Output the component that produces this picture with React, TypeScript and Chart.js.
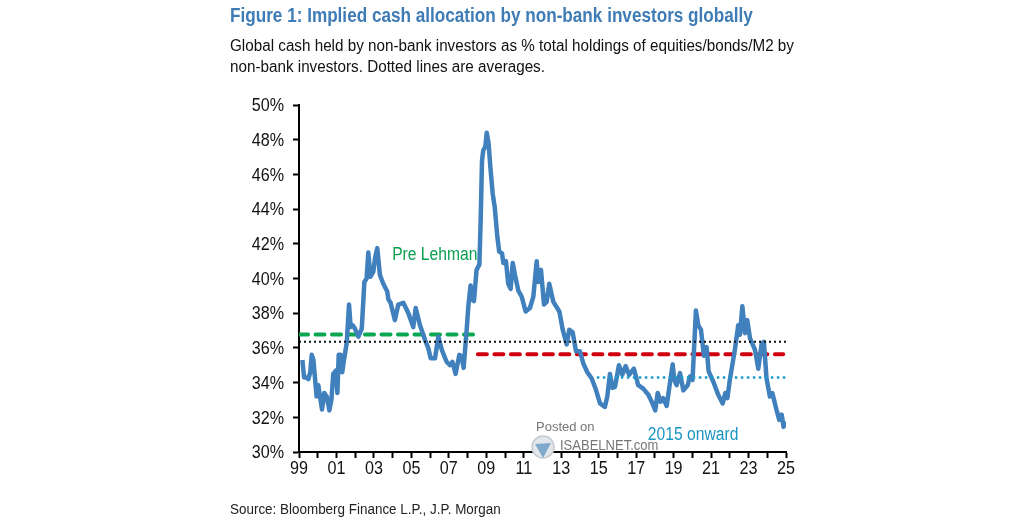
import { useEffect, useRef } from 'react';
import { Chart, registerables } from 'chart.js';

Chart.register(...registerables);

const years = [
  1999.18, 1999.27, 1999.41, 1999.5, 1999.6, 1999.68, 1999.77, 1999.85, 1999.94, 2000.03, 2000.12, 2000.23, 2000.35,
  2000.48, 2000.57, 2000.62, 2000.73, 2000.83, 2000.98, 2001.05, 2001.12, 2001.22, 2001.31, 2001.4, 2001.55, 2001.67,
  2001.76, 2001.87, 2001.99, 2002.17, 2002.35, 2002.49, 2002.61, 2002.7, 2002.81, 2002.97, 2003.06, 2003.18, 2003.32,
  2003.5, 2003.71, 2003.77, 2003.89, 2004.12, 2004.3, 2004.57, 2004.84, 2005.1, 2005.23, 2005.46, 2005.73, 2005.9,
  2006.03, 2006.26, 2006.44, 2006.62, 2006.88, 2007.06, 2007.19, 2007.36, 2007.56, 2007.68, 2007.79, 2007.95, 2008.04,
  2008.16, 2008.23, 2008.34, 2008.48, 2008.63, 2008.7, 2008.77, 2008.84, 2008.95, 2009.02, 2009.12, 2009.23, 2009.34,
  2009.45, 2009.59, 2009.69, 2009.84, 2009.91, 2010.05, 2010.17, 2010.3, 2010.41, 2010.53, 2010.71, 2010.89, 2011.1,
  2011.33, 2011.51, 2011.69, 2011.78, 2011.92, 2012.08, 2012.22, 2012.36, 2012.58, 2012.9, 2013.07, 2013.29, 2013.43,
  2013.61, 2013.79, 2014.0, 2014.18, 2014.39, 2014.62, 2014.85, 2015.07, 2015.33, 2015.46, 2015.6, 2015.74, 2015.87,
  2016.08, 2016.26, 2016.44, 2016.62, 2016.88, 2017.11, 2017.38, 2017.65, 2017.83, 2018.02, 2018.15, 2018.31, 2018.45,
  2018.63, 2018.8, 2018.95, 2019.04, 2019.16, 2019.34, 2019.52, 2019.75, 2019.87, 2020.01, 2020.19, 2020.32, 2020.46,
  2020.62, 2020.76, 2020.87, 2021.12, 2021.38, 2021.62, 2021.76, 2021.87, 2022.0, 2022.27, 2022.45, 2022.54, 2022.67,
  2022.81, 2022.93, 2023.08, 2023.34, 2023.52, 2023.7, 2023.82, 2023.96, 2024.14, 2024.27, 2024.5, 2024.64, 2024.77,
  2024.87, 2025,
];

const cashShare = [
  35.3, 34.3, 34.3, 34.2, 34.6, 35.6, 35.3, 34.3, 33.2, 33.85, 33.2, 32.45, 33.4,
  33.2, 32.7, 32.4, 33.0, 34.5, 34.7, 33.4, 35.6, 35.6, 34.6, 35.3, 36.3, 38.5,
  37.2, 37.3, 37.1, 36.65, 37.1, 39.8, 40.0, 41.5, 40.1, 40.4, 41.2, 41.75, 40.2,
  39.7, 39.25, 38.8, 38.6, 37.6, 38.5, 38.6, 38.0, 37.2, 38.3, 37.3, 36.45, 36.0,
  35.4, 35.4, 36.65, 35.9, 35.2, 35.0, 35.2, 34.5, 35.6, 35.5, 34.85, 37.0, 38.4,
  39.6, 38.8, 38.7, 40.5, 40.8, 43.4, 46.8, 47.4, 47.6, 48.4, 47.8, 46.25, 44.9,
  44.1, 42.4, 41.55, 41.45, 40.9, 41.0, 39.7, 39.4, 40.9, 40.2, 39.3, 38.95, 38.1,
  38.3, 38.95, 41.0, 39.8, 40.5, 38.5, 38.65, 39.7, 38.65, 38.1, 37.1, 36.2, 37.05,
  36.9, 35.8, 35.8, 35.1, 34.6, 34.25, 33.6, 32.8, 32.6, 33.2, 34.5, 33.7, 33.75,
  35.0, 34.45, 34.95, 34.45, 34.8, 33.85, 33.65, 33.3, 32.9, 32.4, 33.4, 32.9, 33.1,
  32.65, 33.95, 35.05, 34.15, 33.85, 34.55, 33.55, 33.85, 34.35, 34.15, 38.15, 37.3, 37.05,
  35.55, 36.05, 34.65, 34.05, 33.3, 32.8, 33.4, 33.1, 34.15, 35.9, 37.3, 36.75, 38.4,
  36.85, 37.6, 36.55, 35.9, 34.8, 36.25, 36.35, 34.25, 33.2, 33.4, 32.4, 31.85, 32.15,
  31.45, 31.75,
];

const allAvgYears = [1999, 2025];
const allAvg = [36.35, 36.35];
const preLehmanYears = [1999, 2008.4];
const preLehmanAvg = [36.77, 36.77];
const postLehmanYears = [2008.55, 2024.85];
const postLehmanAvg = [35.63, 35.63];
const since2015Years = [2014.9, 2025];
const since2015Avg = [34.3, 34.3];

const toPoints = (xs: number[], ys: number[]) => xs.map((x, i) => ({ x, y: ys[i] }));

// tick labels in the original are tall and a little condensed, canvas text can be squeezed
const squeezedText = (ctx: any, text: string, x: number, y: number, color: string, size: number, sx: number, align: string) => {
  ctx.save();
  ctx.translate(x, y);
  ctx.scale(sx, 1);
  ctx.font = `${size}px "Liberation Sans"`;
  ctx.textBaseline = 'middle';
  ctx.textAlign = align;
  ctx.fillStyle = color;
  ctx.fillText(text, 0, 0);
  ctx.restore();
};

const labelPlugin = {
  id: 'axisAndSeriesLabels',
  afterDatasetsDraw(chart: any) {
    const { ctx, scales } = chart;
    const { x, y } = scales;
    y.ticks.forEach((t: any) => {
      squeezedText(ctx, `${t.value}%`, 284, y.getPixelForValue(t.value) + 1, '#111', 19, 0.85, 'right');
    });
    x.ticks.forEach((t: any) => {
      if (t.value % 2 === 1) {
        squeezedText(ctx, String(t.value % 100).padStart(2, '0'), x.getPixelForValue(t.value), 469, '#111', 19, 0.85, 'center');
      }
    });
    squeezedText(ctx, 'Pre Lehman', x.getPixelForValue(2006.25), y.getPixelForValue(41.33), '#0a9e50', 18, 0.87, 'center');
    squeezedText(ctx, '2015 onward', x.getPixelForValue(2020.04), y.getPixelForValue(31.0), '#1b95c4', 18, 0.87, 'center');
  },
};

export default function App() {
  const chartRef = useRef<HTMLCanvasElement>(null);

  useEffect(() => {
    if (!chartRef.current) return;
    const chart = new Chart(chartRef.current, {
      type: 'line',
      data: {
        datasets: [
          {
            data: toPoints(allAvgYears, allAvg),
            borderColor: '#111',
            borderWidth: 2,
            borderDash: [2, 3],
          },
          {
            data: toPoints(since2015Years, since2015Avg),
            borderColor: '#1b9bc9',
            borderWidth: 2.5,
            borderDash: [2.5, 3.5],
          },
          {
            data: toPoints(years, cashShare),
            borderColor: '#3f80bd',
            borderWidth: 4.5,
            borderJoinStyle: 'round',
          },
          {
            data: toPoints(preLehmanYears, preLehmanAvg),
            borderColor: '#0aa650',
            borderWidth: 4,
            borderDash: [9, 7.5],
            borderCapStyle: 'round',
          },
          {
            data: toPoints(postLehmanYears, postLehmanAvg),
            borderColor: '#d0000f',
            borderWidth: 4,
            borderDash: [9, 7.5],
            borderCapStyle: 'round',
          },
        ],
      },
      options: {
        responsive: false,
        animation: false,
        parsing: false,
        layout: { padding: { left: 249, top: 105, right: 238, bottom: 40 } },
        elements: { point: { radius: 0 }, line: { tension: 0 } },
        plugins: { legend: { display: false }, tooltip: { enabled: false } },
        scales: {
          x: {
            type: 'linear',
            min: 1999,
            max: 2025,
            afterFit: (axis: any) => {
              axis.height = 29;
            },
            grid: { drawOnChartArea: false, color: '#000', tickColor: '#000', tickLength: 6, tickWidth: 2 },
            border: { color: '#000', width: 2 },
            ticks: { stepSize: 1, autoSkip: false, maxRotation: 0, color: 'rgba(0,0,0,0)' },
          },
          y: {
            min: 30,
            max: 50,
            afterFit: (axis: any) => {
              axis.width = 50;
            },
            grid: { drawOnChartArea: false, color: '#000', tickColor: '#000', tickLength: 6, tickWidth: 2 },
            border: { color: '#000', width: 2 },
            ticks: { stepSize: 2, color: 'rgba(0,0,0,0)' },
          },
        },
      },
      plugins: [labelPlugin],
    } as any);
    return () => chart.destroy();
  }, []);

  return (
    <div style={{ position: 'absolute', left: 0, top: 0, width: 1024, height: 521, background: '#fff', overflow: 'hidden', fontFamily: '"Liberation Sans"' }}>
      <canvas ref={chartRef} width={1024} height={521} style={{ display: 'block' }} />
      <div style={{ position: 'absolute', left: 230, top: 4, fontSize: 20, fontWeight: 700, color: '#3f7cb5', whiteSpace: 'nowrap', transformOrigin: 'left top', transform: 'scaleX(0.857)' }}>
        Figure 1: Implied cash allocation by non-bank investors globally
      </div>
      <div style={{ position: 'absolute', left: 230, top: 35, fontSize: 16, lineHeight: '21px', color: '#111', whiteSpace: 'nowrap', transformOrigin: 'left top', transform: 'scaleX(0.952)' }}>
        Global cash held by non-bank investors as % total holdings of equities/bonds/M2 by
        <br />
        non-bank investors. Dotted lines are averages.
      </div>
      <div style={{ position: 'absolute', left: 230, top: 501, fontSize: 14, color: '#222', whiteSpace: 'nowrap', transformOrigin: 'left top', transform: 'scaleX(0.96)' }}>
        Source: Bloomberg Finance L.P., J.P. Morgan
      </div>
      <div style={{ position: 'absolute', left: 536, top: 419, fontSize: 13, color: '#777', whiteSpace: 'nowrap' }}>Posted on</div>
      <div style={{ position: 'absolute', left: 560, top: 437, fontSize: 14, color: '#777', whiteSpace: 'nowrap', transformOrigin: 'left top', transform: 'scaleX(0.93)' }}>ISABELNET.com</div>
      <svg style={{ position: 'absolute', left: 530, top: 435 }} width="26" height="26" viewBox="0 0 26 26">
        <circle cx="13" cy="12" r="11" fill="#e4e7ea" stroke="#c5cad0" strokeWidth="1.5" />
        <path d="M5 9 L21 8 L13 23 Z" fill="#7fa9cd" />
      </svg>
    </div>
  );
}
